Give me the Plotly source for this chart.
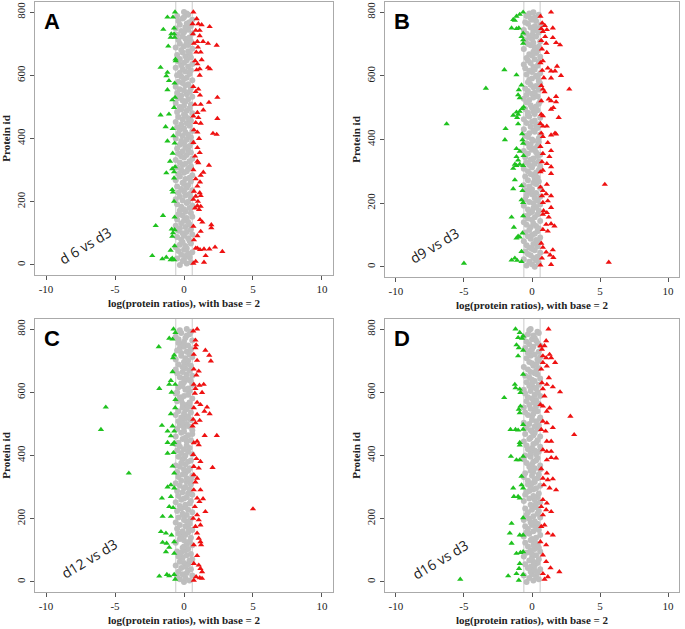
import plotly.graph_objects as go

# ---------------- data ----------------
panel_letters = ["A", "B", "C", "D"]
panel_labels = ["d 6 vs d3", "d9 vs d3", "d12 vs d3", "d16 vs d3"]
x_ticks = [-10, -5, 0, 5, 10]
y_ticks = [0, 200, 400, 600, 800]
threshold = 0.6
gray_step = 4  # protein ids of the unchanged proteins advance by this step

# unchanged proteins (log2 ratio in tenths), protein ids 0, 4, 8, ...
A_gray = [-3, 2, 5, -1, 0, -5, 4, 1, -2, 3, 6, -4, 0, 2, -6, 1, -3, 5, -1, 4,
          -2, 3, -5, 0, 6, -1, 2, -4, 5, -3, 1, -6, 4, -2, 3, 0, -5, 2, 6, -1,
          -4, 5, 1, -3, 0, 4, -2, 6, -5, 2, 3, -1, -6, 5, -3, 1, 4, -4, 0, 6,
          -2, 2, -5, 3, 0, -1, 5, -6, 1, 4, -3, 6, -4, 0, 2, -2, 3, -5, 5, -1,
          1, -3, 4, -6, 6, 0, -2, 2, -4, 5, -1, 3, -5, 1, 4, -3, 0, 6, -2, 2,
          -6, 5, -1, 3, -4, 1, 6, -3, 0, -5, 4, -2, 2, -6, 5, -1, 3, -4, 1, 0,
          6, -5, 2, -2, 4, -3, 0, 5, -6, 1, -1, 3, -4, 6, -2, 2, -5, 4, 0, -3,
          5, -6, 1, 3, -1, -4, 6, 0, 2, -2, -5, 4, -3, 1, 5, -1, -6, 3, -2, 6,
          0, -4, 2, -3, 5, 1, -5, 4, -1, 3, -2, 6, -6, 0, 3, -3, 2, 5, -4, 1,
          4, -1, -5, 6, 0, -2, 3, -6, 1, 5, -3, 2, 4, -4, 6, -1, 0, -5, 3, 2, 0]
B_gray = [2, -4, 0, 5, -2, 3, -6, 1, 4, -1, -3, 6, -5, 2, 0, -2, 4, -4, 1, 5,
          -6, 3, -1, 6, -3, 0, 2, -5, 4, -2, 5, -1, 3, -4, 1, -6, 6, 0, -3, 2,
          -5, 4, -2, 0, 5, -3, 1, 3, -6, 6, 1, -2, 4, -5, 2, 6, -4, 0, 3, -1,
          -4, 0, 6, -2, -6, 3, 1, 5, -3, 2, 4, -5, 1, -1, 3, -3, 5, -6, 0, 6,
          -2, 2, -4, 5, -1, 1, -5, 4, 6, -3, 3, -6, 0, 2, -2, 4, -1, -4, 5, 1,
          0, 5, -3, -5, 6, -2, 2, 1, -6, 4, -1, 3, 5, -4, 0, 2, -6, 6, -2, -3,
          2, -3, 1, 4, -5, 0, 3, -1, 5, -4, 6, -2, -6, 1, 4, -4, 0, 2, -3, 5,
          -5, 1, 3, -1, 6, -3, 5, -2, 0, 4, 3, -4, 6, 0, -2, 2, -5, 1, 4, -6,
          -1, 5, -3, 2, -4, 6, 0, -2, 3, 1, 4, -6, 2, 5, -1, -3, 1, 6, -5, 0,
          -2, 3, 0, -4, 5, 1, -6, 4, -1, 2, 6, -3, -5, 3, 0, -1, 2, -4, 5, -2, 1]
C_gray = [0, 4, -3, 1, -5, 6, -1, 2, -4, 3, 5, -2, 1, -6, 3, 0, -3, 4, 6, -1,
          -4, 2, 5, -2, -5, 1, 3, -1, 0, 6, 2, -6, 4, 0, -3, 5, -2, 1, -4, 3,
          -1, 6, -5, 3, 1, -3, 4, -6, 2, 0, 5, -4, 0, 2, -1, 6, -5, 3, -2, 1,
          -3, 1, 4, -6, 5, -2, 0, 2, -4, 6, 3, -1, -5, 4, 0, 1, -3, 5, -6, 2,
          -2, 5, 2, -4, 6, -1, 1, -5, 3, 0, 4, -3, -6, 1, -2, 3, 5, -1, 0, -4,
          1, 6, -2, 3, -5, 0, 4, -3, 2, -6, -4, 2, 5, -1, 1, -6, 3, 6, -2, 0,
          6, -5, 0, 4, -3, 2, -1, -4, 5, 1, -2, 3, -6, 0, 5, -4, 1, 2, -1, 4,
          2, -1, 4, -5, -2, 6, -3, 0, 3, -6, -5, 4, 1, 3, -4, -1, 6, -2, 0, 5,
          3, 0, -3, 6, 2, -5, -1, 4, -6, 1, -1, 5, -4, 2, 0, 3, -6, 1, 6, -2,
          4, -2, 2, -5, 5, -3, 0, 3, -1, -4, 0, 6, -4, 1, -6, 2, 4, -2, 5, -3, 2]
D_gray = [-4, 1, 5, -2, 3, -6, 0, 4, -1, 2, 6, -3, -1, 2, -5, 4, 1, -2, 5, 0,
          -6, 3, 0, -4, 6, -1, 2, 5, -3, 1, 4, -5, 2, -1, 0, 3, -6, 6, -2, -4,
          1, 5, -3, 3, -5, 0, 4, -1, 2, -6, -2, 6, 1, -4, 4, -3, 5, 0, -5, 3,
          0, -1, 3, 6, -6, 2, -2, 4, 1, -5, 5, -4, -2, 1, 3, -1, 6, -3, 0, 2,
          -3, 2, 4, -6, 0, 5, -5, 1, -1, 6, 2, -2, 6, 0, -4, 1, 3, -6, 4, -1,
          -5, 3, -1, 5, 2, -3, 0, 6, -4, 1, 3, -6, 4, -2, -1, 6, 1, -5, 2, 0,
          -1, 4, -4, 2, 5, -2, -6, 3, 0, 6, 6, 0, -3, 1, -5, 4, 2, -1, -6, 3,
          -2, 5, 1, -4, 3, 0, -3, 6, 2, -5, 4, -1, -6, 3, 1, -2, 5, 0, -4, 2,
          0, 6, -2, -5, 4, 2, -1, 3, -3, 5, -6, 1, 3, 0, -2, 5, 4, -4, 6, -1,
          2, -3, 5, -1, 0, -5, 1, 6, -2, 4, -4, 3, 0, 2, -6, 1, -3, 5, 4, -2, -1]

# down-regulated proteins (green)
A_down_id = [800, 784, 784, 745, 749, 731, 731, 720, 720, 692, 646, 651, 625, 609, 598, 583, 575,
             554, 530, 522, 498, 474, 477, 437, 431, 408, 392, 385, 353, 328, 310, 304, 291, 294,
             275, 238, 230, 201, 156, 151, 124, 113, 101, 111, 90, 60, 46, 29, 24, 19, 21, 16, 16]
A_down_x = [-0.65, -1.2, -0.8, -1.5, -0.72, -0.92, -0.72, -0.97, -0.68, -1.14, -0.6, -0.62, -1.7,
            -1.2, -1.28, -1.09, -0.68, -1.2, -0.65, -0.85, -0.72, -1.7, -1.09, -1.33, -0.82, -0.77,
            -1.2, -0.68, -0.82, -1.01, -0.65, -0.85, -1.28, -0.72, -0.72, -0.85, -0.8, -0.72, -1.52,
            -0.68, -2.05, -0.89, -0.8, -0.68, -0.85, -0.68, -0.97, -2.3, -1.28, -1.57, -0.85, -0.72, -0.97]
B_down_id = [800, 793, 787, 777, 774, 750, 748, 750, 734, 723, 713, 702, 619, 603, 561, 556, 571,
             540, 531, 502, 497, 488, 486, 476, 479, 469, 449, 449, 434, 418, 399, 399, 388, 371,
             363, 346, 349, 335, 322, 309, 318, 322, 318, 273, 255, 245, 239, 210, 202, 156, 160,
             124, 106, 90, 96, 93, 48, 21, 27, 20, 16, 11]
B_down_x = [-0.65, -0.9, -1.14, -1.38, -1.26, -1.5, -1.14, -0.97, -0.65, -0.77, -0.65, -0.65, -2.03,
            -1.14, -3.39, -0.97, -0.77, -1.02, -0.9, -0.62, -0.73, -0.9, -1.14, -1.38, -1.02, -1.09,
            -6.27, -1.02, -1.94, -0.73, -1.99, -0.7, -0.65, -1.14, -0.9, -1.14, -0.62, -1.02, -1.26,
            -1.38, -1.14, -0.9, -0.65, -1.26, -0.77, -1.38, -0.7, -0.77, -0.65, -1.5, -0.65, -1.33,
            -0.7, -1.14, -1.02, -0.9, -0.77, -1.5, -1.26, -1.09, -0.77, -5.0]
C_down_id = [800, 789, 771, 768, 744, 718, 709, 665, 637, 625, 625, 612, 600, 577, 553, 551, 532,
             495, 477, 493, 477, 482, 462, 441, 435, 441, 407, 409, 344, 366, 344, 300, 307, 297,
             265, 270, 238, 235, 207, 207, 159, 154, 148, 125, 122, 127, 109, 95, 90, 23, 19, 18, 23, 8]
C_down_x = [-0.76, -0.62, -1.07, -0.83, -1.83, -0.71, -0.79, -0.83, -0.95, -1.07, -0.64, -1.79,
            -0.9, -0.62, -5.67, -0.64, -0.95, -1.6, -1.19, -0.83, -0.71, -6.02, -0.95, -1.19, -0.83,
            -0.71, -1.19, -0.76, -4.0, -0.83, -0.71, -1.19, -0.95, -0.71, -1.6, -0.95, -1.07, -0.79,
            -1.55, -0.95, -1.67, -1.31, -0.9, -1.55, -1.26, -0.71, -1.07, -1.31, -0.71, -1.24, -1.07,
            -1.79, -0.71, -0.64]
D_down_id = [800, 789, 773, 771, 778, 750, 741, 733, 715, 657, 625, 614, 610, 583, 599, 556, 546,
             535, 498, 482, 482, 480, 483, 441, 433, 397, 386, 386, 397, 334, 297, 307, 297, 270,
             265, 270, 203, 185, 154, 148, 148, 122, 90, 93, 95, 58, 42, 8, 19, 26, 23, 5]
D_down_x = [-1.21, -0.9, -1.02, -0.73, -0.65, -1.14, -0.97, -0.65, -1.02, -0.65, -1.26, -1.21,
            -0.9, -2.04, -0.85, -0.85, -0.97, -0.9, -0.65, -1.58, -1.21, -1.02, -0.65, -0.9, -0.9,
            -1.55, -1.14, -0.9, -0.65, -0.77, -1.38, -0.77, -0.65, -1.33, -0.9, -1.02, -0.65, -1.5,
            -1.63, -0.9, -0.65, -1.5, -1.14, -0.85, -0.65, -0.9, -0.95, -5.27, -1.75, -1.14, -0.65, -0.97]

# up-regulated proteins (red)
A_up_id = [800, 779, 763, 763, 760, 754, 742, 742, 731, 725, 707, 701, 707, 695, 701, 689, 673,
           673, 646, 649, 636, 620, 625, 620, 617, 600, 564, 556, 548, 537, 530, 514, 508, 490,
           508, 482, 471, 466, 463, 450, 448, 427, 420, 416, 413, 400, 387, 371, 355, 344, 328,
           323, 315, 301, 293, 283, 272, 262, 249, 233, 228, 217, 219, 207, 201, 187, 185, 180,
           175, 143, 135, 127, 117, 122, 106, 92, 79, 53, 48, 50, 50, 56, 42, 53, 29, 11, 8, 5]
A_up_x = [0.68, 0.92, 1.04, 0.62, 1.28, 1.86, 0.85, 1.14, 0.65, 1.14, 0.97, 0.72, 1.38, 2.37,
          1.74, 1.01, 1.21, 0.89, 0.8, 1.28, 0.97, 1.14, 1.74, 1.88, 0.92, 1.14, 0.68, 1.04, 0.85,
          1.16, 2.42, 1.81, 0.8, 1.4, 1.21, 0.97, 0.68, 1.04, 2.42, 0.85, 1.21, 0.72, 0.97, 2.1,
          2.37, 1.09, 0.68, 0.97, 1.14, 0.8, 0.97, 1.04, 1.81, 0.68, 1.4, 1.21, 0.85, 1.16, 0.97,
          0.72, 1.14, 0.85, 1.21, 0.68, 1.01, 0.97, 1.21, 0.8, 1.09, 1.16, 1.33, 1.98, 1.98, 0.68,
          1.21, 0.97, 0.72, 0.97, 1.16, 1.45, 1.84, 2.25, 2.78, 0.85, 1.57, 0.85, 1.45, 0.68]
B_up_id = [800, 787, 766, 758, 748, 745, 739, 750, 723, 720, 711, 704, 697, 702, 684, 673, 647,
           641, 624, 630, 615, 615, 617, 601, 594, 593, 558, 569, 558, 550, 535, 527, 521, 521,
           518, 495, 500, 469, 479, 474, 442, 450, 442, 420, 417, 420, 414, 409, 390, 378, 365,
           356, 346, 330, 324, 314, 303, 298, 293, 259, 259, 250, 239, 229, 223, 223, 207, 202,
           186, 176, 170, 165, 156, 135, 133, 128, 112, 117, 74, 61, 53, 46, 37, 29, 27, 7, 14, 5]
B_up_x = [1.4, 0.62, 0.75, 0.94, 0.68, 1.09, 0.8, 1.53, 0.97, 1.53, 0.68, 1.77, 2.06, 1.04, 0.73,
          1.09, 0.8, 0.62, 1.16, 1.84, 1.4, 1.69, 0.75, 2.13, 0.87, 1.4, 2.74, 0.68, 0.8, 0.92,
          1.77, 1.23, 0.68, 1.4, 1.77, 1.4, 1.57, 1.96, 0.68, 0.8, 0.8, 0.62, 1.09, 1.69, 1.77,
          0.68, 1.4, 0.8, 1.16, 0.62, 1.4, 0.8, 1.28, 0.73, 1.09, 1.4, 0.8, 0.62, 1.4, 5.35, 1.09,
          0.62, 0.8, 1.04, 1.4, 0.73, 1.16, 0.8, 1.4, 0.85, 1.09, 0.8, 1.23, 1.4, 1.04, 1.65, 1.16,
          0.8, 0.68, 0.8, 1.53, 1.04, 1.33, 1.57, 0.73, 1.4, 5.64, 0.62]
C_up_id = [800, 794, 765, 750, 741, 733, 717, 699, 720, 701, 673, 667, 654, 625, 622, 625, 612,
           599, 597, 568, 561, 553, 551, 540, 532, 530, 514, 511, 503, 493, 463, 463, 445, 440,
           434, 403, 390, 381, 365, 360, 362, 339, 328, 316, 291, 291, 265, 263, 254, 238, 222,
           231, 212, 201, 196, 175, 180, 154, 138, 127, 117, 117, 83, 58, 53, 42, 32, 16, 13, 5, 11]
C_up_x = [0.95, 0.67, 0.83, 0.88, 0.83, 1.55, 1.83, 1.95, 0.71, 0.95, 0.71, 1.07, 0.9, 0.71, 1.12,
          1.43, 0.83, 1.31, 0.79, 0.95, 1.19, 1.67, 0.71, 1.48, 1.86, 0.95, 0.67, 1.14, 0.83, 0.62,
          1.5, 2.38, 0.95, 0.71, 1.07, 0.67, 0.9, 1.19, 0.71, 1.07, 2.07, 0.71, 0.95, 0.83, 1.19,
          0.71, 0.95, 1.38, 1.12, 0.79, 1.55, 5.0, 0.95, 0.67, 1.07, 0.83, 1.19, 0.95, 1.07, 1.19,
          0.71, 1.24, 0.95, 0.71, 1.07, 1.19, 1.31, 0.88, 1.14, 0.71, 1.31]
D_up_id = [800, 747, 747, 763, 736, 720, 715, 709, 709, 694, 694, 683, 673, 646, 630, 625, 617,
           601, 611, 588, 561, 556, 550, 540, 524, 508, 503, 488, 482, 477, 466, 445, 445, 418,
           413, 413, 392, 386, 393, 358, 344, 328, 323, 326, 307, 297, 291, 260, 249, 238, 228,
           222, 212, 175, 180, 154, 148, 127, 117, 85, 64, 44, 32, 26, 16, 8]
D_up_x = [1.21, 0.62, 0.92, 1.04, 0.73, 1.29, 0.8, 1.04, 1.41, 1.7, 0.8, 1.09, 0.68, 1.24, 0.73,
          1.09, 1.53, 2.06, 0.8, 0.92, 0.62, 0.8, 1.29, 1.09, 2.82, 0.8, 1.09, 1.53, 0.68, 1.0,
          3.1, 1.09, 1.41, 0.8, 1.09, 1.41, 1.77, 1.09, 1.41, 0.68, 1.09, 0.8, 1.16, 1.53, 0.87,
          1.29, 1.77, 0.8, 1.09, 0.68, 1.04, 1.41, 0.8, 0.68, 0.92, 1.16, 1.53, 0.62, 1.04, 0.8,
          1.04, 1.36, 2.01, 0.8, 1.16, 0.92]

gray_lists = [A_gray, B_gray, C_gray, D_gray]
down_ids = [A_down_id, B_down_id, C_down_id, D_down_id]
down_xs = [A_down_x, B_down_x, C_down_x, D_down_x]
up_ids = [A_up_id, B_up_id, C_up_id, D_up_id]
up_xs = [A_up_x, B_up_x, C_up_x, D_up_x]

# ---------------- layout ----------------
W, H = 685, 629
# plot boxes in pixels: (left, right, top, bottom)
boxes = [(35, 333, 2, 275), (385, 679, 2, 277), (35, 333, 319, 592), (385, 679, 319, 592)]
letter_pos = [(52, 22), (402, 22), (52, 338), (402, 338)]
label_pos = [(85, 245), (434, 245), (89, 558), (440, 559)]

serif = "Liberation Serif"
GRAY = "#bebebe"
GREEN = "#1fc21f"
RED = "#ee1111"

fig = go.Figure()
layout = dict(width=W, height=H, margin=dict(l=0, r=0, t=0, b=0, autoexpand=False),
              paper_bgcolor="white", plot_bgcolor="white", showlegend=False)
shapes = []
annotations = []

for i in range(4):
    n = i + 1
    xa = "x" if n == 1 else f"x{n}"
    ya = "y" if n == 1 else f"y{n}"
    gx = [v / 10 for v in gray_lists[i]]
    gy = [k * gray_step for k in range(len(gx))]
    fig.add_trace(go.Scatter(x=gx, y=gy, mode="markers", xaxis=xa, yaxis=ya, hoverinfo="skip",
                             marker=dict(color=GRAY, size=6, line=dict(width=0))))
    fig.add_trace(go.Scatter(x=down_xs[i], y=down_ids[i], mode="markers", xaxis=xa, yaxis=ya,
                             hoverinfo="skip",
                             marker=dict(color=GREEN, size=5.5, symbol="triangle-up",
                                         line=dict(width=0))))
    fig.add_trace(go.Scatter(x=up_xs[i], y=up_ids[i], mode="markers", xaxis=xa, yaxis=ya,
                             hoverinfo="skip",
                             marker=dict(color=RED, size=5.5, symbol="triangle-up",
                                         line=dict(width=0))))
    l, r, t, b = boxes[i]
    xkey = "xaxis" if n == 1 else f"xaxis{n}"
    ykey = "yaxis" if n == 1 else f"yaxis{n}"
    layout[xkey] = dict(domain=[l / W, r / W], anchor=ya, range=[-10.8, 10.8], automargin=False,
                        tickmode="array", tickvals=x_ticks, ticktext=[str(v) for v in x_ticks],
                        ticks="outside", ticklen=4, tickcolor="#555", showgrid=False,
                        zeroline=False, showline=True, linecolor="#aaaaaa", linewidth=1.3,
                        mirror=True, tickfont=dict(family=serif, size=11, color="#222"),
                        title=dict(text="<b>log(protein ratios), with base = 2</b>",
                                   font=dict(family=serif, size=11, color="#222"), standoff=4))
    layout[ykey] = dict(domain=[1 - b / H, 1 - t / H], anchor=xa, range=[-32, 832], automargin=False,
                        tickmode="array", tickvals=y_ticks, ticktext=[str(v) for v in y_ticks],
                        ticks="outside", ticklen=4, tickcolor="#555", showgrid=False,
                        zeroline=False, showline=True, linecolor="#aaaaaa", linewidth=1.3,
                        mirror=True, tickangle=-90,
                        tickfont=dict(family=serif, size=11, color="#222"),
                        title=dict(text="<b>Protein id</b>",
                                   font=dict(family=serif, size=11, color="#222"), standoff=2))
    for tv in (-threshold, threshold):
        shapes.append(dict(type="line", xref=xa, yref=f"{ya} domain", x0=tv, x1=tv, y0=0, y1=1,
                           line=dict(color="#d4d4d4", width=1.2), layer="below"))
    lx, ly = letter_pos[i]
    annotations.append(dict(x=lx / W, y=1 - ly / H, xref="paper", yref="paper",
                            xanchor="center", yanchor="middle",
                            text=f"<b>{panel_letters[i]}</b>", showarrow=False,
                            font=dict(family="Liberation Sans", size=22, color="black")))
    tx, ty = label_pos[i]
    annotations.append(dict(x=tx / W, y=1 - ty / H, xref="paper", yref="paper",
                            xanchor="center", yanchor="middle",
                            text=panel_labels[i], showarrow=False, textangle=-31,
                            font=dict(family="Open Sans", size=14, color="#222")))

layout["shapes"] = shapes
layout["annotations"] = annotations
fig.update_layout(**layout)
# the page's default 8px body margin would shift the figure; remove it
fig.write_html("out.html", config={"displayModeBar": False},
               post_script="document.body.style.margin='0px';")
